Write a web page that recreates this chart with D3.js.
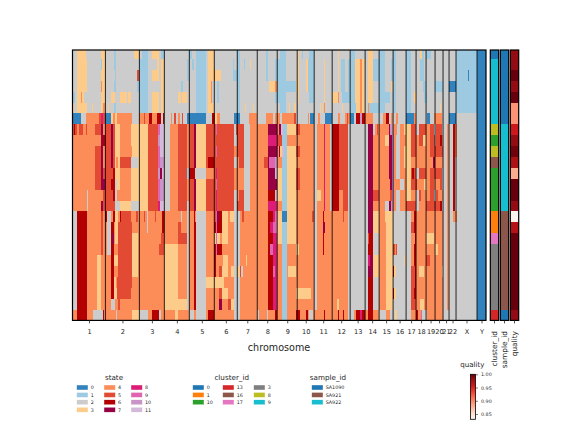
<!DOCTYPE html>
<html>
<head>
<meta charset="utf-8">
<script src="https://cdn.jsdelivr.net/npm/d3@7/dist/d3.min.js"></script>
<style>
html,body{margin:0;padding:0;background:#fff}
text{font-family:"DejaVu Sans",sans-serif;fill:#262626}
</style>
</head>
<body>
<svg id="chart" width="576" height="432"></svg>
<script>
// Copy-number state per cell across the genome, one run-length string per cell.
// Each token is state:endBin, with bins running along the concatenated chromosomes.
const stateRuns = [
"2:5 3:14 2:29 3:33 2:42 1:44 2:62 3:67 2:70 1:76 2:80 3:87 2:89 1:92 2:117 1:120 2:124 1:134 2:136 3:142 2:165 1:168 2:194 1:196 2:208 1:214 2:225 3:227 2:230 1:231 2:237 1:242 2:266 3:267 2:278 1:283 2:296 3:301 2:307 1:313 2:321 1:324 2:334 1:339 2:348 3:350 1:352 2:354 1:359 2:384 1:405 0:414",
"2:5 3:15 2:29 1:30 3:33 2:42 1:44 2:67 1:76 2:85 3:87 2:89 3:92 2:115 1:117 2:120 1:122 2:124 1:134 2:136 3:142 2:161 1:162 2:165 1:168 2:172 1:173 2:178 3:179 2:194 1:196 2:203 1:205 1:214 2:225 3:227 2:234 3:236 1:242 2:252 3:253 2:266 3:267 2:269 1:273 2:276 1:278 1:283 3:288 4:290 3:293 2:296 3:301 1:313 2:319 1:321 1:324 2:334 1:339 2:348 1:352 2:384 1:405 0:414",
"2:5 3:15 2:29 3:33 2:43 1:44 2:65 5:67 1:76 2:80 3:87 2:89 3:92 2:115 1:117 2:124 1:134 2:136 3:142 4:143 3:149 2:161 1:165 1:168 2:194 1:196 2:203 1:205 1:214 2:225 3:227 2:234 3:236 1:242 2:252 3:253 2:266 3:267 2:269 1:273 2:276 1:283 3:288 4:290 3:293 2:296 3:301 1:313 2:319 1:324 2:334 1:339 2:348 1:352 2:384 1:396 0:397 1:405 0:414",
"2:5 3:15 2:29 4:30 3:33 2:42 1:44 2:65 1:76 2:89 3:92 2:109 1:111 2:115 2:124 1:134 2:136 3:139 4:140 2:145 1:147 2:165 1:168 2:197 3:203 4:205 1:224 3:227 2:234 3:236 1:242 2:252 3:253 2:266 3:267 2:269 1:273 2:276 1:283 3:288 4:290 3:293 2:296 3:301 2:307 1:313 2:319 3:321 1:324 2:334 1:339 2:348 2:351 1:354 2:363 1:371 2:377 0:384 1:405 0:414",
"1:3 2:5 3:9 4:10 3:12 2:29 3:33 2:39 3:43 2:48 3:55 2:56 3:59 2:67 1:76 2:80 3:87 2:89 3:92 2:106 3:109 2:110 3:115 2:124 1:134 2:136 3:139 4:140 2:145 1:147 2:165 1:168 2:203 1:208 1:214 2:225 3:227 2:237 1:242 2:252 3:253 2:260 3:266 4:267 2:270 1:276 1:278 1:283 3:288 4:290 3:293 2:296 3:301 2:307 1:318 2:321 1:324 2:334 1:339 2:342 3:344 2:352 1:355 2:384 1:405 0:414",
"3:2 2:5 3:15 2:20 3:21 2:29 3:31 4:33 2:36 3:37 2:42 1:44 2:67 1:76 2:80 3:87 2:89 3:92 2:124 1:134 2:136 3:142 2:165 1:168 2:173 3:174 2:181 3:182 2:208 1:214 2:217 3:218 2:222 3:224 2:248 3:249 2:250 3:251 2:252 4:253 2:270 3:271 2:278 1:284 3:288 4:290 3:293 2:296 4:297 1:313 2:321 1:324 2:334 1:339 2:368 3:369 2:384 1:405 0:414",
"0:9 2:14 4:27 5:29 8:31 5:33 0:39 3:41 4:43 3:45 4:60 2:67 4:72 5:73 4:77 6:80 4:85 6:89 2:91 6:92 2:99 4:100 2:102 5:104 2:106 4:108 2:110 5:111 2:115 0:134 2:140 6:142 5:143 3:145 4:148 2:162 0:168 2:177 4:185 2:194 4:201 2:203 4:205 4:208 2:210 4:222 5:224 2:236 4:237 2:238 0:242 2:246 4:248 2:253 0:260 2:266 4:268 2:273 4:275 5:276 4:278 0:282 2:284 6:288 10:290 6:293 4:296 4:301 2:311 4:314 6:317 2:319 4:321 2:324 4:326 2:334 0:342 4:344 2:355 0:358 2:362 4:370 2:377 0:384 2:405 0:414",
"5:2 6:3 5:5 4:7 5:11 4:14 5:15 4:23 5:29 7:31 4:33 5:39 7:41 5:43 3:48 4:59 3:76 5:86 9:88 11:92 2:98 4:106 5:115 4:117 5:122 7:124 3:134 5:144 9:145 5:162 2:164 5:168 5:172 2:178 4:196 7:205 4:207 7:209 11:211 1:215 3:224 5:228 4:242 2:245 4:252 8:253 4:258 2:260 6:267 5:276 2:296 7:301 2:303 4:305 5:306 4:317 7:318 10:321 4:325 2:328 4:332 3:339 5:344 2:347 5:354 4:358 5:362 2:364 5:370 2:375 4:377 2:381 6:383 4:385 2:405 0:414",
"5:1 4:23 4:29 7:31 6:33 5:39 7:41 5:43 3:48 4:59 3:76 5:86 10:88 11:92 2:98 4:106 5:115 4:117 5:122 7:124 3:134 5:142 5:162 2:165 5:172 2:178 4:196 8:205 5:210 1:215 4:224 4:242 2:245 4:252 8:253 4:258 2:260 6:267 5:276 2:296 7:301 4:313 3:317 7:320 10:322 4:324 2:328 4:334 3:339 5:344 4:347 5:351 3:354 4:358 5:363 2:364 5:368 6:370 4:371 2:375 4:377 2:381 6:383 4:385 2:405 0:414",
"5:1 4:23 5:29 7:31 4:33 5:39 7:41 5:43 3:48 4:60 3:76 5:86 9:88 11:92 2:98 4:106 5:115 4:117 5:122 7:124 3:134 5:144 9:145 5:162 4:165 5:172 2:178 4:196 7:205 4:207 7:208 3:210 11:212 1:215 3:224 5:228 4:242 2:245 4:252 8:253 4:258 2:260 6:267 5:276 2:296 7:301 4:307 4:317 7:320 10:322 4:324 2:328 4:332 3:334 3:339 5:344 4:358 5:362 5:371 2:375 4:377 2:381 6:383 4:385 2:405 0:414",
"4:23 5:29 7:31 4:33 5:39 7:41 5:43 3:44 4:46 3:48 5:59 2:66 3:76 5:86 9:88 10:92 2:98 4:106 5:115 4:117 5:122 7:124 3:134 5:136 6:142 5:162 2:165 4:167 5:172 2:178 4:192 5:196 7:197 9:203 10:205 4:210 1:215 3:224 4:242 2:245 4:252 8:253 4:258 2:260 6:267 5:276 2:296 7:301 4:313 4:317 7:320 10:322 4:324 2:328 4:332 3:334 3:339 4:344 4:355 4:361 7:363 4:371 2:375 4:377 2:381 6:383 2:385 2:405 0:414",
"4:23 5:29 7:31 5:33 5:41 6:43 3:48 4:59 3:76 5:86 10:88 7:90 11:92 2:98 4:106 5:115 1:117 6:123 2:134 4:142 5:144 8:145 5:162 4:172 2:178 4:196 7:203 11:205 3:210 1:215 3:224 5:228 4:242 2:245 4:252 8:253 4:258 2:260 6:267 5:276 2:296 7:301 4:307 4:317 7:320 10:322 4:324 2:328 4:334 3:339 5:340 6:342 5:344 2:347 5:354 4:358 5:363 5:370 2:375 4:377 2:381 6:383 2:385 2:405 0:414",
"4:23 5:29 7:33 5:39 6:43 2:45 3:48 4:59 3:76 5:86 9:88 10:92 2:98 4:106 5:115 4:117 5:122 7:124 3:134 5:144 9:145 5:162 4:172 2:178 4:196 7:205 3:210 1:215 3:224 5:228 4:242 2:245 4:252 8:253 4:258 2:260 6:267 5:276 2:296 7:301 4:313 4:318 7:320 10:322 4:328 2:332 4:334 3:339 5:345 4:347 4:352 3:355 4:358 5:362 4:364 4:368 5:370 2:375 4:377 2:381 6:383 2:385 2:405 0:414",
"4:15 2:16 4:29 4:31 5:33 5:41 6:43 2:45 4:48 4:59 3:76 5:86 9:88 10:92 2:98 4:106 5:115 4:117 5:122 7:124 3:134 5:144 8:145 5:162 2:165 4:167 5:172 2:178 4:196 6:203 11:205 3:210 1:215 3:224 4:242 2:245 3:249 4:252 8:253 4:258 2:260 6:267 4:271 5:276 2:296 7:301 5:307 4:318 5:320 10:322 4:324 2:328 4:334 3:339 4:344 2:347 5:349 4:358 5:362 2:364 5:366 4:371 2:375 4:377 2:381 6:383 2:385 2:405 0:414",
"4:15 2:16 4:29 7:31 5:33 5:43 2:48 3:59 2:67 3:76 5:86 8:88 11:92 2:98 4:106 5:115 2:117 5:122 7:124 3:134 5:144 8:145 5:162 2:165 5:172 2:178 4:196 8:205 4:210 1:215 3:224 4:242 2:245 4:252 8:253 4:258 2:260 6:267 4:271 5:276 2:296 7:301 4:313 2:317 7:319 10:321 4:324 2:328 4:334 5:339 5:344 2:347 4:354 5:358 5:363 5:368 6:370 2:375 4:377 2:381 6:383 2:385 2:405 0:414",
"2:5 6:15 4:29 5:31 4:33 6:35 2:39 4:41 6:43 3:46 4:48 6:49 5:59 4:64 5:66 4:72 5:73 4:75 2:76 4:83 5:84 4:90 6:92 4:109 2:110 4:115 2:117 4:122 6:123 4:124 2:134 4:142 5:144 9:145 7:147 6:150 3:156 4:158 3:162 2:168 4:170 5:172 4:196 6:201 8:203 9:205 3:210 0:215 3:224 4:240 5:242 2:245 4:251 6:252 4:271 5:272 4:276 2:296 7:301 3:307 4:313 3:321 2:339 4:342 6:344 4:354 4:358 4:371 2:375 4:377 2:381 4:385 2:405 0:414",
"2:5 6:15 4:29 5:31 4:33 4:35 2:39 6:42 4:43 3:46 5:60 4:64 4:75 2:76 4:90 6:92 4:106 5:109 4:115 2:117 4:122 6:124 2:134 4:142 6:144 9:145 6:150 3:156 4:162 2:168 4:196 6:198 8:201 9:205 3:210 1:215 3:224 4:242 2:245 4:251 7:253 4:276 2:296 7:301 3:307 4:314 3:321 2:339 5:342 6:344 4:354 4:371 2:375 4:377 2:384 2:405 0:414",
"2:5 6:15 4:29 5:31 4:33 4:35 2:39 6:40 7:42 4:43 3:46 5:60 3:66 4:76 4:89 5:92 4:106 5:115 2:117 4:122 6:124 2:134 4:142 3:144 9:145 3:148 4:150 3:156 4:162 2:168 4:196 6:201 8:205 3:210 1:215 3:224 4:226 4:242 2:245 4:251 6:252 4:276 2:296 5:297 6:301 2:307 4:314 3:321 2:339 4:343 6:344 4:354 3:362 4:371 2:375 4:377 2:384 2:405 0:414",
"2:5 6:15 4:29 5:31 4:33 4:35 2:39 6:42 4:46 5:60 3:66 4:87 5:92 3:106 4:115 2:117 4:122 6:124 2:134 4:142 6:144 9:145 6:150 4:156 4:162 2:168 4:196 6:198 9:201 8:205 4:210 1:215 4:224 3:227 4:242 2:245 4:251 6:252 4:276 2:296 6:301 2:307 4:314 3:321 5:323 4:324 5:325 2:339 4:342 6:344 4:354 4:363 3:366 4:371 2:375 4:377 2:384 2:405 0:414",
"2:5 6:15 4:25 3:29 4:33 4:39 6:42 3:46 5:60 3:66 4:92 3:106 4:115 2:117 4:122 6:124 2:134 4:142 6:144 4:151 3:156 4:162 2:168 4:174 3:175 4:196 6:201 8:205 4:210 1:215 4:224 4:242 2:245 4:276 2:296 8:298 7:301 3:307 4:314 3:321 2:332 3:333 2:339 4:342 6:344 4:354 5:358 4:371 2:375 4:377 2:384 2:405 0:414",
"2:5 6:15 4:25 3:29 4:33 4:39 6:42 4:46 5:60 3:66 4:92 3:106 4:115 2:117 4:122 6:124 2:134 4:142 6:144 4:147 5:150 3:156 4:159 3:162 2:165 3:168 5:169 2:171 4:196 6:201 9:203 8:205 4:210 1:215 4:216 3:224 4:242 2:245 4:276 2:296 7:301 3:307 4:314 3:321 6:322 3:324 2:339 5:343 6:344 4:347 3:352 4:358 4:370 3:371 2:375 4:377 2:384 2:405 0:414",
"2:5 6:15 4:25 3:29 4:33 4:39 6:42 3:44 4:45 5:60 4:64 4:92 3:106 4:115 2:117 4:122 6:124 2:134 3:152 4:162 2:168 4:196 6:201 8:205 4:210 1:215 4:224 4:242 2:245 4:276 2:296 6:301 2:307 4:314 3:321 2:339 5:343 6:344 4:354 4:371 2:375 4:377 2:384 2:405 0:414",
"2:5 6:15 4:25 3:29 4:33 4:39 6:42 3:45 5:59 4:64 4:92 3:106 4:115 2:117 4:122 6:124 2:134 4:142 4:147 5:150 3:156 4:162 2:168 4:196 6:201 8:205 4:210 1:215 4:224 3:239 4:242 2:245 4:276 2:296 6:301 2:307 4:314 3:321 6:322 3:324 2:339 5:342 6:344 4:355 4:371 2:375 4:377 2:384 2:405 0:414",
"2:5 6:15 4:25 3:29 4:33 4:39 2:43 4:46 5:48 4:60 4:92 3:115 2:117 4:122 6:124 2:134 4:142 4:147 7:150 4:156 5:159 3:162 2:168 4:196 6:201 8:205 4:210 1:215 4:224 4:242 2:245 4:265 3:267 4:276 2:296 6:301 2:307 4:314 3:321 2:339 5:344 4:348 3:352 4:355 4:371 2:375 4:377 2:384 2:405 0:414",
"4:5 6:15 4:21 2:31 6:32 4:33 4:44 2:45 4:60 3:67 2:76 4:80 6:87 2:89 4:92 4:103 3:106 4:115 4:117 2:122 4:124 2:134 4:136 6:142 4:162 2:168 4:178 4:185 2:187 4:195 2:196 4:203 6:205 4:210 1:215 4:224 6:228 4:234 6:236 4:237 2:241 4:242 4:252 6:253 4:266 6:267 4:271 6:272 4:276 2:282 4:284 6:288 8:290 6:293 4:296 6:301 4:307 2:314 4:318 2:323 3:325 2:339 4:344 6:346 4:349 9:350 2:355 4:371 2:384 2:405 0:414"
];
const chromosomes = ["1","2","3","4","5","6","7","8","9","10","11","12","13","14","15","16","17","18","19","20","21","22","X","Y"];
const chromEnds = [33,67,92,117,142,165,185,205,225,242,260,278,293,307,321,334,344,354,363,371,377,384,405,414];
const statePalette = ["#3182bd","#9ecae1","#cccccc","#fdcc8a","#fc8d59","#e34a33","#b30000","#980043","#dd1c77","#df65b0","#c994c7","#d4b9da"];
const stateLabels = [0,1,2,3,4,5,6,7,8,9,10,11];

// Per-cell annotations
const clusterIds = [0,9,9,9,9,9,9,8,10,8,16,10,10,10,10,1,1,17,3,3,3,3,3,3,13];
const sampleIds = ["SA1090","SA1090","SA1090","SA1090","SA1090","SA1090","SA1090","SA922","SA922","SA922","SA922","SA922","SA922","SA922","SA922","SA921","SA921","SA921","SA921","SA921","SA921","SA921","SA921","SA921","SA1090"];
const qualityValues = [0.985,0.985,1.0,0.985,1.0,0.893,0.893,0.958,0.985,0.997,0.975,0.88,1.0,1.0,0.985,0.832,0.97,1.0,1.0,1.0,1.0,1.0,1.0,1.0,0.985];
const clusterLegend = ["0","1","10","13","16","17","3","8","9"];
const clusterColors = ["#1f77b4","#ff7f0e","#2ca02c","#d62728","#8c564b","#e377c2","#7f7f7f","#bcbd22","#17becf"];
const sampleLegend = ["SA1090","SA921","SA922"];
const sampleColors = ["#1f77b4","#8c564b","#17becf"];
const redsStops = ["#fff5f0","#fee0d2","#fcbba1","#fc9272","#fb6a4a","#ef3b2c","#cb181d","#a50f15","#67000d"];
const qualityTicks = [0.85,0.90,0.95,1.00];
const annotationNames = ["cluster_id","sample_id","quality"];

const svg = d3.select("#chart");
const parseRuns = s => {
  let start = 0;
  return s.split(" ").map(tok => {
    const [state, end] = tok.split(":").map(Number);
    const run = {state, start, end};
    start = end;
    return run;
  }).filter(r => r.end > r.start);
};

const x = d3.scaleLinear().domain([0, 414]).range([72.5, 486]);
const y = d3.scaleLinear().domain([0.17, 25]).range([50, 320.4]);
const rowTop = i => y(Math.max(i, 0.17));
const rowBottom = i => y(i + 1);
const stateColor = d3.scaleOrdinal(stateLabels, statePalette);

// Heatmap cells
const heat = svg.append("g").attr("shape-rendering", "crispEdges");
stateRuns.forEach((row, i) => {
  heat.append("g").selectAll("rect").data(parseRuns(row)).join("rect")
    .attr("x", d => x(d.start))
    .attr("width", d => x(d.end) - x(d.start))
    .attr("y", rowTop(i))
    .attr("height", rowBottom(i) - rowTop(i))
    .attr("fill", d => stateColor(d.state));
});

// Chromosome separators
svg.append("g").selectAll("line").data(chromEnds.slice(0, -1)).join("line")
  .attr("x1", d => x(d)).attr("x2", d => x(d))
  .attr("y1", y.range()[0]).attr("y2", y.range()[1])
  .attr("stroke", "#000").attr("stroke-opacity", 0.75).attr("stroke-width", 1.1);

// Frame and chromosome axis
svg.append("rect").attr("x", 72.5).attr("y", 50).attr("width", 413.5).attr("height", 270.4)
  .attr("fill", "none").attr("stroke", "#000").attr("stroke-width", 1.2);
const chromMids = chromEnds.map((e, i) => (e + (i ? chromEnds[i - 1] : 0)) / 2);
const axis = svg.append("g").attr("transform", `translate(0,${y.range()[1]})`)
  .call(d3.axisBottom(x).tickValues(chromMids).tickFormat((d, i) => chromosomes[i]).tickSize(3).tickPadding(6));
axis.select(".domain").remove();
axis.selectAll("line").attr("stroke", "#262626").attr("stroke-width", 0.8);
axis.selectAll("text").attr("font-size", 6.6).attr("fill", "#262626");
svg.append("text").attr("x", 279).attr("y", 351).attr("text-anchor", "middle").attr("font-size", 9.6).text("chromosome");

// Annotation strips beside the heatmap
const stripX = d3.scaleBand().domain(annotationNames).range([490.3, 518.7]).paddingInner(0.16).paddingOuter(0);
const clusterColor = d3.scaleOrdinal(clusterLegend, clusterColors);
const sampleColor = d3.scaleOrdinal(sampleLegend, sampleColors);
const redsRamp = d3.piecewise(d3.interpolateRgb, redsStops);
const qualityScale = d3.scaleLinear().domain([0.83, 1]).range([0, 1]);
const stripFills = [
  i => clusterColor(String(clusterIds[i])),
  i => sampleColor(sampleIds[i]),
  i => redsRamp(qualityScale(qualityValues[i]))
];
annotationNames.forEach((name, k) => {
  const g = svg.append("g");
  g.append("g").attr("shape-rendering", "crispEdges").selectAll("rect").data(d3.range(stateRuns.length)).join("rect")
    .attr("x", stripX(name)).attr("width", stripX.bandwidth())
    .attr("y", i => rowTop(i)).attr("height", i => rowBottom(i) - rowTop(i))
    .attr("fill", stripFills[k]);
  g.append("rect").attr("x", stripX(name)).attr("y", 50).attr("width", stripX.bandwidth()).attr("height", 270.4)
    .attr("fill", "none").attr("stroke", "#000").attr("stroke-width", 1.2);
  const cx = stripX(name) + stripX.bandwidth() / 2;
  g.append("line").attr("x1", cx).attr("x2", cx).attr("y1", 320.4).attr("y2", 323.4).attr("stroke", "#262626").attr("stroke-width", 0.8);
  g.append("text").attr("transform", `translate(${cx + 2.7},331) rotate(-90)`).attr("text-anchor", "end")
    .attr("font-size", 7.4).text(name);
});

// Categorical legends
function legend(title, titleX, labels, colors, columns, perCol) {
  const g = svg.append("g");
  g.append("text").attr("x", titleX).attr("y", 379.5).attr("text-anchor", "middle").attr("font-size", 7.2).text(title);
  labels.forEach((label, i) => {
    const col = columns[Math.floor(i / perCol)];
    const yy = 385 + (i % perCol) * 7.4;
    g.append("rect").attr("x", col).attr("y", yy).attr("width", 11.3).attr("height", 5)
      .attr("fill", colors[i]).attr("stroke", "#fff").attr("stroke-width", 0.4);
    g.append("text").attr("x", col + 14).attr("y", yy + 4.4).attr("font-size", 4.8).text(label);
  });
}
legend("state", 114, stateLabels.map(String), statePalette, [76.7, 104, 131], 4);
legend("cluster_id", 231.7, clusterLegend, clusterColors, [192.7, 222.7, 253.7], 3);
legend("sample_id", 328, sampleLegend, sampleColors, [311.7], 3);

// Quality colour bar
const barY = d3.scaleLinear().domain([0.83, 1]).range([419.3, 374.3]);
const defs = svg.append("defs");
const grad = defs.append("linearGradient").attr("id", "reds").attr("x1", 0).attr("x2", 0).attr("y1", 1).attr("y2", 0);
redsStops.forEach((c, i) => grad.append("stop").attr("offset", i / (redsStops.length - 1)).attr("stop-color", c));
svg.append("text").attr("x", 472.3).attr("y", 367).attr("text-anchor", "middle").attr("font-size", 7.1).text("quality");
svg.append("rect").attr("x", 470.5).attr("y", 374.3).attr("width", 5).attr("height", 45)
  .attr("fill", "url(#reds)").attr("stroke", "#000").attr("stroke-width", 0.8);
const barAxis = svg.append("g").attr("transform", "translate(475.5,0)")
  .call(d3.axisRight(barY).tickValues(qualityTicks).tickFormat(d3.format(".2f")).tickSize(2.5).tickPadding(3));
barAxis.select(".domain").remove();
barAxis.selectAll("line").attr("stroke", "#262626").attr("stroke-width", 0.6);
barAxis.selectAll("text").attr("font-size", 4.8).attr("fill", "#262626");
</script>
</body>
</html>
